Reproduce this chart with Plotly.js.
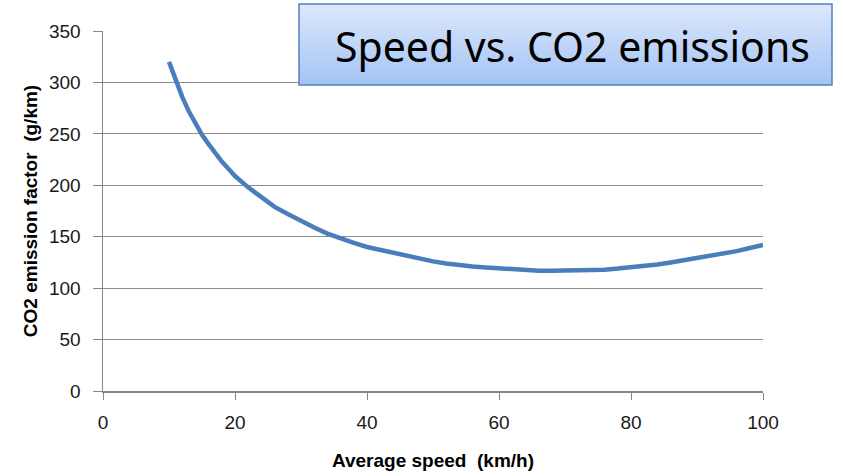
<!DOCTYPE html>
<html>
<head>
<meta charset="utf-8">
<script src="https://cdn.plot.ly/plotly-3.0.1.min.js"></script>
<style>
html,body{margin:0;padding:0;background:#fff;}
#chart{width:843px;height:476px;}
</style>
</head>
<body>
<div id="chart"></div>
<script>
// Average speed (km/h)
const speed = [10,11,12,13,14,15,16,17,18,19,20,22,24,26,28,30,32,34,36,38,40,42,44,46,48,50,52,54,56,58,60,62,64,66,68,70,72,74,76,78,80,82,84,86,88,90,92,94,96,98,100];
// CO2 emission factor (g/km)
const co2 = [320,302,286,272,260,249,240,231,223,216,209,198,188,179,172,165,159,153,148,144,140,137,134,131,128,126,124,122,121,120,119,118,117,117,117,117,117,117,118,119,120,121,123,125,127,129,132,134,136,139,142];
const xTicks = [0,20,40,60,80,100];
const yTicks = [0,50,100,150,200,250,300,350];
const chartTitle = "Speed vs. CO2 emissions";
const xTitle = "Average speed  (km/h)";
const yTitle = "CO2 emission factor  (g/km)";

const gradSvg = '<svg xmlns="http://www.w3.org/2000/svg" width="100" height="100" preserveAspectRatio="none">' +
  '<defs><linearGradient id="g" x1="0" y1="0" x2="0" y2="1">' +
  '<stop offset="0" stop-color="#dde8fb"/><stop offset="1" stop-color="#a3c3f5"/></linearGradient></defs>' +
  '<rect width="100" height="100" fill="url(#g)"/></svg>';
const gradUri = 'data:image/svg+xml;base64,' + btoa(gradSvg);

const trace = {
  x: speed, y: co2, type: 'scatter', mode: 'lines',
  line: {color: '#4a7ebb', width: 4.5, shape: 'linear'},
  hoverinfo: 'skip'
};

const tickFont = {family: '"Liberation Sans", Arial, sans-serif', size: 19, color: '#1a1a1a'};
const titleFont = {family: '"Liberation Sans", Arial, sans-serif', size: 19, color: '#000', weight: 'bold'};

const layout = {
  width: 843, height: 476,
  margin: {l: 103, r: 80, t: 31, b: 85},
  paper_bgcolor: '#fff', plot_bgcolor: '#fff',
  showlegend: false,
  xaxis: {
    range: [0, 100], tickvals: xTicks, ticktext: xTicks.map(String),
    showgrid: false, zeroline: false,
    showline: true, linecolor: '#868686', linewidth: 1.5,
    ticks: 'outside', ticklen: 7, tickcolor: '#868686', tickwidth: 1,
    ticklabelstandoff: 7,
    tickfont: tickFont,
    title: {text: '<b>' + xTitle + '</b>', font: titleFont, standoff: 21}
  },
  yaxis: {
    range: [0, 350], tickvals: yTicks, ticktext: yTicks.map(String),
    showgrid: true, gridcolor: '#8c8c8c', gridwidth: 1,
    zeroline: false,
    showline: true, linecolor: '#868686', linewidth: 1.5,
    ticks: 'outside', ticklen: 9, tickcolor: '#868686', tickwidth: 1,
    ticklabelstandoff: 8,
    tickfont: tickFont,
    title: {text: '<b>' + yTitle + '</b>', font: titleFont, standoff: 6}
  },
  images: [{
    source: gradUri, xref: 'paper', yref: 'paper',
    x: (299-103)/660, y: 1 + (31-4)/360,
    sizex: (832-299)/660, sizey: (85-4)/360,
    xanchor: 'left', yanchor: 'top', sizing: 'stretch', layer: 'above'
  }],
  shapes: [{
    type: 'rect', xref: 'paper', yref: 'paper',
    x0: (299-103)/660, x1: (832-103)/660,
    y0: 1 - (85-31)/360, y1: 1 + (31-4)/360,
    line: {color: '#4f81bd', width: 1.5}, fillcolor: 'rgba(0,0,0,0)', layer: 'above'
  }],
  annotations: [{
    text: chartTitle, xref: 'paper', yref: 'paper',
    x: (572 - 103)/660, y: 1 - (46 - 31)/360,
    xanchor: 'center', yanchor: 'middle', showarrow: false,
    font: {family: '"Noto Sans", "Open Sans", sans-serif', size: 41, color: '#000'}
  }]
};

Plotly.newPlot('chart', [trace], layout, {displayModeBar: false, staticPlot: true});
</script>
</body>
</html>
